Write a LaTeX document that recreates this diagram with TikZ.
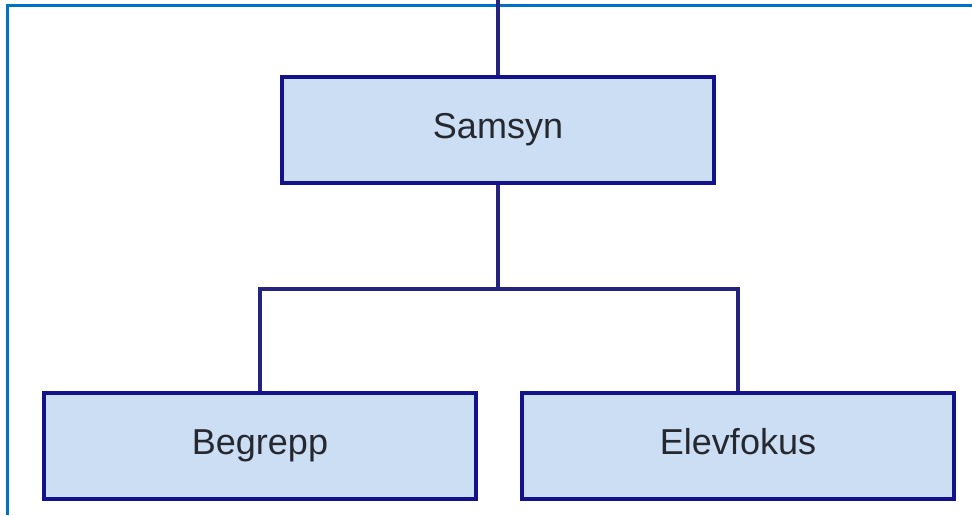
\documentclass[tikz,border=0pt]{standalone}
\usepackage{fontspec}
\setmainfont{Liberation Sans}
\usepackage{tikz}
\usetikzlibrary{positioning}
\definecolor{boxline}{RGB}{18,18,140}
\definecolor{boxfill}{RGB}{204,222,244}
\definecolor{wire}{RGB}{36,36,128}
\definecolor{frameblue}{RGB}{0,114,198}
\definecolor{txt}{RGB}{38,40,48}
\tikzset{
    topic/.style={draw=boxline, fill=boxfill, line width=2pt, minimum width=216pt, minimum height=53pt, inner sep=0pt, text height=1em, text depth=0.2em, text=txt, font=\fontsize{18}{21}\selectfont},
    wire/.style={draw=wire, line width=1.7pt}
}

\begin{document}
\begin{tikzpicture}[x=0.5pt, y=0.5pt]
        \useasboundingbox (0,0) rectangle (972,515);
        \draw[frameblue, line width=1.5pt](7,0)--(7,509)--(972,509);
        \node[topic] (samsyn) at (498,385) {Samsyn};
        \node[topic] (begrepp) at (260,69) {Begrepp};
        \node[topic] (elevfokus) at (738,69) {Elevfokus};
        \coordinate (top) at (498,515);
        \coordinate (split) at (498,226);
        \draw[wire](top)--(samsyn);
        \draw[wire](samsyn)--(split);
        \draw[wire](begrepp)|-(split)-|(elevfokus);
    \end{tikzpicture}
\end{document}
